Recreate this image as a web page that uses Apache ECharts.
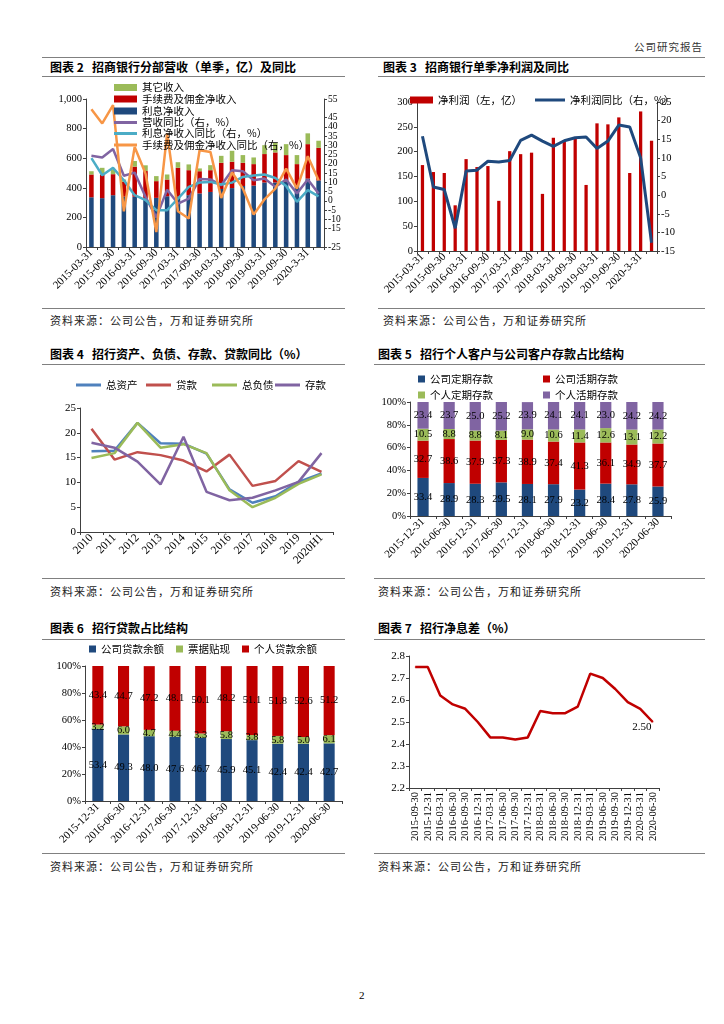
<!DOCTYPE html>
<html><head><meta charset="utf-8">
<script src="https://cdn.jsdelivr.net/npm/echarts@6/dist/echarts.min.js"></script>
<style>
body{margin:0;background:#fff;}
#page{position:relative;width:724px;height:1024px;overflow:hidden;font-family:"Noto Sans CJK SC",sans-serif;color:#000;background:#fff;}
.t{position:absolute;white-space:nowrap;line-height:14px;}
.title{font-size:12px;font-weight:bold;}
.src{font-size:11px;letter-spacing:1px;color:#222;}
.hl{position:absolute;height:0;border-top:1.5px solid #808080;}
.c{position:absolute;}
</style></head>
<body><div id="page">
<div class="t" style="right:21px;top:40px;font-size:10.5px;letter-spacing:1px;color:#333;">公司研究报告</div>
<div class="hl" style="left:42px;top:57px;width:663px;"></div>

<div class="t title" style="left:50px;top:60px;">图表 2&nbsp;&nbsp;&nbsp;招商银行分部营收（单季，亿）及同比</div>
<div class="t title" style="left:383px;top:60px;">图表 3&nbsp;&nbsp;&nbsp;招商银行单季净利润及同比</div>
<div class="hl" style="left:42px;top:76px;width:303px;"></div>
<div class="hl" style="left:378px;top:76px;width:327px;"></div>
<div class="c" id="c1" style="left:40px;top:78px;width:320px;height:228px;"></div>
<div class="c" id="c2" style="left:370px;top:78px;width:340px;height:228px;"></div>
<div class="hl" style="left:42px;top:308px;width:303px;"></div>
<div class="hl" style="left:378px;top:308px;width:327px;"></div>
<div class="t src" style="left:50px;top:313px;">资料来源：公司公告，万和证券研究所</div>
<div class="t src" style="left:383px;top:313px;">资料来源：公司公告，万和证券研究所</div>

<div class="t title" style="left:50px;top:347px;">图表 4&nbsp;&nbsp;&nbsp;招行资产、负债、存款、贷款同比（%）</div>
<div class="t title" style="left:378px;top:347px;">图表 5&nbsp;&nbsp;&nbsp;招行个人客户与公司客户存款占比结构</div>
<div class="hl" style="left:42px;top:364px;width:303px;"></div>
<div class="hl" style="left:374px;top:364px;width:331px;"></div>
<div class="c" id="c3" style="left:40px;top:366px;width:320px;height:212px;"></div>
<div class="c" id="c4" style="left:370px;top:366px;width:340px;height:212px;"></div>
<div class="hl" style="left:42px;top:578px;width:303px;"></div>
<div class="hl" style="left:374px;top:578px;width:331px;"></div>
<div class="t src" style="left:50px;top:584px;">资料来源：公司公告，万和证券研究所</div>
<div class="t src" style="left:378px;top:584px;">资料来源：公司公告，万和证券研究所</div>

<div class="t title" style="left:50px;top:621px;">图表 6&nbsp;&nbsp;&nbsp;招行贷款占比结构</div>
<div class="t title" style="left:378px;top:621px;">图表 7&nbsp;&nbsp;&nbsp;招行净息差（%）</div>
<div class="hl" style="left:42px;top:639px;width:303px;"></div>
<div class="hl" style="left:374px;top:639px;width:331px;"></div>
<div class="c" id="c5" style="left:40px;top:640px;width:320px;height:212px;"></div>
<div class="c" id="c6" style="left:370px;top:640px;width:340px;height:212px;"></div>
<div class="hl" style="left:42px;top:853px;width:303px;"></div>
<div class="hl" style="left:374px;top:853px;width:331px;"></div>
<div class="t src" style="left:50px;top:859px;">资料来源：公司公告，万和证券研究所</div>
<div class="t src" style="left:378px;top:859px;">资料来源：公司公告，万和证券研究所</div>

<div class="t" style="left:359px;top:988px;font-size:11px;font-family:'Liberation Serif',serif;">2</div>
</div>
<script>
// ---------- data ----------
const quarters = ['2015-03-31','2015-06-30','2015-09-30','2015-12-31','2016-03-31','2016-06-30','2016-09-30','2016-12-31','2017-03-31','2017-06-30','2017-09-30','2017-12-31','2018-03-31','2018-06-30','2018-09-30','2018-12-31','2019-03-31','2019-06-30','2019-09-30','2019-12-31','2020-3-31','2020-06-30'];
const interestIncome = [336,330,350,340,340,328,332,343,340,350,362,372,392,398,412,415,436,436,443,415,462,450];
const feeIncome = [154,160,142,100,203,185,113,113,195,169,150,147,177,178,157,145,192,203,178,145,233,220];
const otherIncome = [22,45,33,16,38,39,34,34,38,39,19,34,47,74,52,45,60,65,74,61,73,48];
const revenueYoY = [24.3,23.4,28.0,13.5,15.2,2.1,-9.0,6.0,-1.5,1.2,11.8,11.5,8.4,16.5,16.0,11.1,12.0,7.5,11.5,3.9,11.5,3.9];
const interestYoY = [23.0,13.8,17.8,11.1,3.0,0.3,-5.1,-5.1,1.2,7.5,9.8,10.2,8.8,9.8,12.9,13.6,14.2,12.3,8.0,-0.6,5.7,2.4];
const feeYoY = [49.5,41.8,51.7,-5.7,29.1,14.7,-16.9,36.4,-5.7,-9.6,27.3,26.4,1.5,15.3,6.6,-7.5,0.8,6.6,17.4,6.6,24.1,11.1];

const netProfit = [173,159,157,92,185,169,171,101,201,195,198,115,228,223,226,133,257,255,269,157,281,222];
const netProfitYoY = [15.8,2.2,1.5,-8.9,6.5,6.7,9.1,8.9,9.3,14.7,16.1,14.5,13.1,14.6,15.4,15.6,12.5,14.5,18.8,18.3,10.0,-12.8];

const years = ['2010','2011','2012','2013','2014','2015','2016','2017','2018','2019','2020H1'];
const totalAssetsYoY = [16.3,16.4,22.0,17.9,17.8,15.8,8.6,5.9,7.2,10.1,11.8];
const loansYoY = [20.8,14.6,16.1,15.5,14.4,12.2,15.6,9.3,10.3,14.3,12.1];
const totalLiabYoY = [14.9,15.9,22.0,17.0,17.7,15.9,8.4,5.0,6.9,9.7,11.6];
const depositsYoY = [18.0,17.0,14.2,9.6,19.2,8.1,6.4,6.9,8.4,10.1,15.9];

const halfYears = ['2015-12-31','2016-06-30','2016-12-31','2017-06-30','2017-12-31','2018-06-30','2018-12-31','2019-06-30','2019-12-31','2020-06-30'];
const corpTimeDep = [33.4,28.9,28.3,29.5,28.1,27.9,23.2,28.4,27.8,25.9];
const corpDemandDep = [32.7,38.6,37.9,37.3,38.9,37.4,41.3,36.1,34.9,37.7];
const persTimeDep = [10.5,8.8,8.8,8.1,9.0,10.6,11.4,12.6,13.1,12.2];
const persDemandDep = [23.4,23.7,25.0,25.2,23.9,24.1,24.1,23.0,24.2,24.2];

const corpLoans = [53.4,49.3,48.0,47.6,46.7,45.9,45.1,42.4,42.4,42.7];
const billDiscount = [3.2,6.0,4.7,4.4,3.3,5.8,3.8,5.8,5.0,6.1];
const persLoans = [43.4,44.7,47.2,48.1,50.1,48.2,51.1,51.8,52.6,51.2];

const nimDates = ['2015-09-30','2015-12-31','2016-03-31','2016-06-30','2016-09-30','2016-12-31','2017-03-31','2017-06-30','2017-09-30','2017-12-31','2018-03-31','2018-06-30','2018-09-30','2018-12-31','2019-03-31','2019-06-30','2019-09-30','2019-12-31','2020-03-31','2020-06-30'];
const nim = [2.75,2.75,2.62,2.58,2.56,2.50,2.43,2.43,2.42,2.43,2.55,2.54,2.54,2.57,2.72,2.70,2.65,2.59,2.56,2.50];

// ---------- styles ----------
const CJK = '"Noto Sans CJK SC", sans-serif';
const SERIF = '"Liberation Serif", "Noto Sans CJK SC", serif';
const AX = '#404040';

function catAxis(data, lbl) {
  return {
    type: 'category', data: data, boundaryGap: true,
    axisLine: {show: true, lineStyle: {color: AX, width: 1}},
    axisTick: {show: true, interval: 0, length: 3, inside: false, lineStyle: {color: AX}},
    axisLabel: Object.assign({color: '#000', fontFamily: SERIF, fontSize: 11, margin: 4}, lbl)
  };
}
function valAxis(o) {
  return Object.assign({
    type: 'value',
    axisLine: {show: true, lineStyle: {color: AX, width: 1}},
    axisTick: {show: true, length: 3, lineStyle: {color: AX}},
    splitLine: {show: false},
    axisLabel: {color: '#000', fontFamily: SERIF, fontSize: 10.5, margin: 4}
  }, o);
}
// one legend component per item, placed where the reference shows it
function lg(name, left, top, w, h) {
  return {
    data: [{name: name, icon: 'rect'}], left: left, top: top, itemWidth: w, itemHeight: h, padding: 0, itemGap: 0,
    textStyle: {fontFamily: CJK, fontSize: 10.5, color: '#000', lineHeight: 12}, selectedMode: false
  };
}
function init(id) { return echarts.init(document.getElementById(id), null, {renderer: 'canvas'}); }

// ---------- chart 1 ----------
const C_BLUE = '#1F497D', C_RED = '#C00000', C_GREEN = '#9BBB59';
const leg1 = [['其它收入', 7], ['手续费及佣金净收入', 7], ['利息净收入', 7],
  ['营收同比（右，%）', 3], ['利息净收入同比（右，%）', 3], ['手续费及佣金净收入同比（右，%）', 3]];
const leg1Top = [3.5, 15, 27, 38.5, 49.5, 61];
init('c1').setOption({
  animation: false,
  grid: {left: 46, top: 21, width: 238, height: 148},
  legend: leg1.map((l, i) => lg(l[0], 74, leg1Top[i], 23, l[1])),
  xAxis: catAxis(quarters, {interval: 1, rotate: 45}),
  yAxis: [
    valAxis({min: 0, max: 1000, interval: 200, position: 'left',
      axisLabel: {color: '#000', fontFamily: SERIF, fontSize: 10.5, margin: 4, formatter: v => v === 1000 ? '1,000' : String(v)}}),
    valAxis({min: -25, max: 55, interval: 5, position: 'right',
      axisLabel: {color: '#000', fontFamily: SERIF, fontSize: 9.5, lineHeight: 8, margin: 4, showMinLabel: true, showMaxLabel: true, hideOverlap: false}})
  ],
  series: [
    {name: '利息净收入', type: 'bar', stack: 'r', data: interestIncome, barWidth: '42%', itemStyle: {color: C_BLUE}},
    {name: '手续费及佣金净收入', type: 'bar', stack: 'r', data: feeIncome, itemStyle: {color: C_RED}},
    {name: '其它收入', type: 'bar', stack: 'r', data: otherIncome, itemStyle: {color: C_GREEN}},
    {name: '营收同比（右，%）', type: 'line', yAxisIndex: 1, data: revenueYoY, symbol: 'none', lineStyle: {color: '#8064A2', width: 2.5}, itemStyle: {color: '#8064A2'}},
    {name: '利息净收入同比（右，%）', type: 'line', yAxisIndex: 1, data: interestYoY, symbol: 'none', lineStyle: {color: '#4BACC6', width: 2.5}, itemStyle: {color: '#4BACC6'}},
    {name: '手续费及佣金净收入同比（右，%）', type: 'line', yAxisIndex: 1, data: feeYoY, symbol: 'none', lineStyle: {color: '#F79646', width: 2.5}, itemStyle: {color: '#F79646'}}
  ]
});

// ---------- chart 2 (图表3) ----------
init('c2').setOption({
  animation: false,
  grid: {left: 47, top: 24, width: 240, height: 149},
  legend: [
    lg('净利润（左，亿）', 40, 16, 23, 7),
    lg('净利润同比（右，%）', 165, 16, 30, 3)
  ],
  xAxis: catAxis(quarters, {interval: 1, rotate: 45}),
  yAxis: [
    valAxis({min: 0, max: 300, interval: 50, position: 'left'}),
    valAxis({min: -15, max: 25, interval: 5, position: 'right'})
  ],
  series: [
    {name: '净利润（左，亿）', type: 'bar', data: netProfit, barWidth: '30%', itemStyle: {color: C_RED}},
    {name: '净利润同比（右，%）', type: 'line', yAxisIndex: 1, data: netProfitYoY, symbol: 'none', lineStyle: {color: '#1F497D', width: 3}, itemStyle: {color: '#1F497D'}}
  ]
});

// ---------- chart 3 (图表4) ----------
const L4 = [['总资产', '#4F81BD', totalAssetsYoY], ['贷款', '#C0504D', loansYoY], ['总负债', '#9BBB59', totalLiabYoY], ['存款', '#8064A2', depositsYoY]];
const lpos4 = [36, 106, 172, 235];
init('c3').setOption({
  animation: false,
  grid: {left: 40, top: 42, width: 253, height: 124},
  legend: L4.map((s, i) => lg(s[0], lpos4[i], 13, 25, 3)),
  xAxis: catAxis(years, {interval: 0, rotate: 45, fontSize: 11.5}),
  yAxis: valAxis({min: 0, max: 25, interval: 5, axisLabel: {color: '#000', fontFamily: SERIF, fontSize: 11, margin: 4}}),
  series: L4.map(s => ({name: s[0], type: 'line', data: s[2], symbol: 'none', lineStyle: {color: s[1], width: 2.5}, itemStyle: {color: s[1]}}))
});

// ---------- chart 4 (图表5) ----------
const pctLabel = {show: true, position: 'inside', color: '#000', fontFamily: SERIF, fontSize: 10.5, formatter: p => p.value.toFixed(1)};
const S5 = [['公司定期存款', C_BLUE, corpTimeDep], ['公司活期存款', C_RED, corpDemandDep], ['个人定期存款', C_GREEN, persTimeDep], ['个人活期存款', '#8064A2', persDemandDep]];
const lpos5 = [[48, 7], [173, 7], [48, 23], [173, 23]];
init('c4').setOption({
  animation: false,
  grid: {left: 40, top: 36, width: 261, height: 114},
  legend: S5.map((s, i) => lg(s[0], lpos5[i][0], lpos5[i][1], 7, 7)),
  xAxis: catAxis(halfYears, {interval: 0, rotate: 45, fontSize: 11}),
  yAxis: valAxis({min: 0, max: 100, interval: 20, axisLabel: {color: '#000', fontFamily: SERIF, fontSize: 10.5, margin: 4, formatter: '{value}%'}}),
  series: S5.map(s => ({name: s[0], type: 'bar', stack: 'd', data: s[2], barWidth: '43%', itemStyle: {color: s[1]}, label: pctLabel}))
});

// ---------- chart 5 (图表6) ----------
const S6 = [['公司贷款余额', C_BLUE, corpLoans], ['票据贴现', C_GREEN, billDiscount], ['个人贷款余额', C_RED, persLoans]];
const lpos6 = [49, 136, 202];
init('c5').setOption({
  animation: false,
  grid: {left: 45, top: 26, width: 257, height: 135},
  legend: S6.map((s, i) => lg(s[0], lpos6[i], 3, 7, 7)),
  xAxis: catAxis(halfYears, {interval: 0, rotate: 45, fontSize: 11}),
  yAxis: valAxis({min: 0, max: 100, interval: 20, axisLabel: {color: '#000', fontFamily: SERIF, fontSize: 10.5, margin: 4, formatter: '{value}%'}}),
  series: S6.map(s => ({name: s[0], type: 'bar', stack: 'l', data: s[2], barWidth: '43%', itemStyle: {color: s[1]}, label: pctLabel}))
});

// ---------- chart 6 (图表7) ----------
init('c6').setOption({
  animation: false,
  grid: {left: 39, top: 16, width: 250, height: 132},
  xAxis: catAxis(nimDates, {interval: 0, rotate: 90, fontSize: 10.5}),
  yAxis: valAxis({min: 2.2, max: 2.8, interval: 0.1, axisLabel: {color: '#000', fontFamily: SERIF, fontSize: 11, margin: 4, formatter: v => v.toFixed(1)}}),
  series: [{
    name: '净息差', type: 'line', data: nim, symbol: 'circle', symbolSize: 1, showSymbol: true,
    lineStyle: {color: C_RED, width: 2.5}, itemStyle: {color: C_RED},
    labelLayout: {hideOverlap: false},
    label: {show: true, position: [-20, 0], color: '#000', fontFamily: SERIF, fontSize: 11,
      formatter: p => p.dataIndex === nim.length - 1 ? p.value.toFixed(2) : ''}
  }]
});
</script>
</body></html>
